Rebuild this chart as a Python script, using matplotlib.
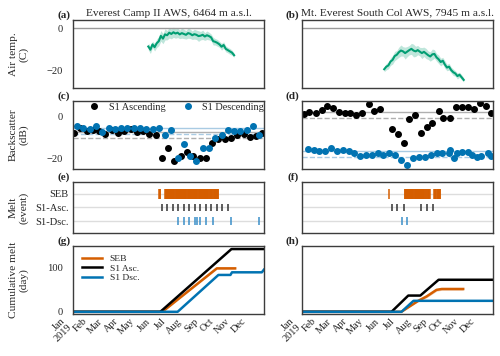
import numpy as np
import matplotlib
matplotlib.use('Agg')
import matplotlib.pyplot as plt
import matplotlib.dates as mdates

plt.rcParams['font.family'] = ['Liberation Serif', 'DejaVu Serif']
plt.rcParams['font.size'] = 8.2
plt.rcParams['text.color'] = '#262626'
plt.rcParams['axes.labelcolor'] = '#262626'
plt.rcParams['xtick.color'] = '#262626'
plt.rcParams['ytick.color'] = '#262626'

GREEN = '#029e73'
ORANGE = '#d55e00'
BLUE = '#0173b2'

# --- air temperature (day of year, degC, half band width) ---
t_days_l = [144, 148, 152, 156, 160, 164, 168, 172, 176, 180, 184, 188, 192, 196,
            200, 204, 208, 212, 216, 220, 224, 228, 232, 236, 240, 244, 248, 252,
            256, 260, 264, 268, 272, 276, 280, 284, 288, 292, 296, 300, 304, 308]
t_vals_l = [-8.5, -10.0, -7.5, -8.8, -7.0, -6.0, -3.5, -4.8, -2.8, -3.2, -2.0, -2.6, -1.8, -2.4,
            -2.0, -2.8, -2.2, -2.6, -3.0, -2.2, -2.5, -3.2, -2.7, -3.0, -3.6, -3.4, -3.0, -3.8,
            -3.2, -3.6, -4.2, -6.0, -6.3, -6.8, -7.5, -8.6, -7.8, -9.6, -10.2, -10.8, -11.4, -12.6]
t_band_l = [1.6, 1.8, 1.5, 1.8, 2.0, 2.2, 2.5, 2.4, 2.6, 2.2, 2.5, 2.3, 2.4, 2.2,
            2.3, 2.0, 2.4, 2.2, 2.0, 2.4, 2.2, 2.0, 2.3, 2.2, 2.5, 2.0, 2.2, 1.8,
            2.0, 1.8, 1.6, 1.8, 1.5, 1.6, 1.4, 1.6, 1.5, 1.4, 1.3, 1.4, 1.2, 1.0]

t_days_r = [157, 161, 165, 169, 173, 177, 181, 185, 189, 193, 197, 201, 205, 209,
            213, 217, 221, 225, 229, 233, 237, 241, 245, 249, 253, 257, 261, 265,
            269, 273, 277, 281, 285, 289, 293, 297, 301, 305, 309]
t_vals_r = [-19.2, -18.0, -17.4, -15.6, -14.8, -13.0, -12.4, -11.2, -10.4, -10.8, -11.6, -10.9, -10.2, -9.6,
            -10.4, -10.8, -10.2, -10.9, -11.6, -11.0, -11.8, -12.6, -13.2, -12.2, -12.0, -13.6, -14.5, -15.8,
            -15.2, -17.0, -18.4, -18.0, -19.6, -20.6, -21.2, -22.4, -21.8, -23.0, -24.2]
t_band_r = [1.2, 1.5, 1.6, 1.8, 2.0, 2.2, 2.0, 2.4, 2.6, 2.2, 2.8, 2.4, 2.2, 2.6,
            3.0, 2.4, 2.2, 2.0, 2.6, 2.2, 2.4, 2.0, 2.2, 2.5, 2.0, 1.8, 2.0, 1.8,
            1.6, 1.8, 1.5, 1.6, 1.4, 1.5, 1.3, 1.4, 1.2, 1.2, 1.0]

# --- Sentinel-1 backscatter (day of year, dB) ---
asc_days_l = [2, 14, 26, 38, 50, 62, 74, 86, 98, 110, 122, 134, 146, 158, 170, 182,
              194, 206, 218, 230, 242, 254, 266, 278, 290, 302, 314, 326, 338, 350, 362]
asc_vals_l = [-7.8, -5.4, -7.0, -6.5, -6.7, -8.3, -6.2, -7.8, -7.0, -5.9, -7.5, -7.0, -8.3, -8.6, -19.7, -14.8,
              -21.4, -19.0, -16.8, -19.0, -20.0, -19.7, -12.8, -10.6, -10.9, -10.0, -8.6, -8.5, -9.7, -9.4, -8.0]
dsc_days_l = [8, 20, 32, 44, 56, 68, 80, 92, 104, 116, 128, 140, 152, 164, 176,
              188, 200, 212, 224, 236, 248, 260, 272, 284, 296, 308, 320, 332, 344, 356]
dsc_vals_l = [-4.6, -5.4, -5.9, -4.6, -7.3, -5.4, -5.7, -5.4, -5.6, -5.4, -5.4, -6.0, -5.9, -5.4, -8.6,
              -6.2, -20.0, -12.9, -19.0, -21.4, -15.2, -15.2, -10.0, -8.6, -6.5, -7.0, -7.0, -6.5, -4.6, -9.0]

asc_days_r = [3, 13, 26, 38, 48, 60, 71, 82, 92, 103, 114, 127, 138, 149, 171, 183,
              194, 205, 216, 227, 238, 249, 262, 270, 283, 295, 305, 318, 329, 340, 352, 362]
asc_vals_r = [1.3, 2.2, 1.7, 3.2, 4.9, 4.1, 2.2, 1.7, 1.7, 0.9, 1.7, 6.0, 2.9, 3.6, -5.7, -8.5,
              -12.5, -0.9, 0.9, -7.8, -4.9, -3.0, 2.9, -0.6, -0.6, 4.4, 4.6, 4.4, 3.8, 6.5, 4.9, 1.7]
dsc_days_r = [11, 22, 32, 44, 55, 66, 78, 89, 100, 111, 122, 133, 145, 155, 167, 178, 189, 201,
              213, 224, 235, 246, 257, 268, 280, 283, 291, 296, 305, 317, 324, 334, 343, 355, 362]
dsc_vals_r = [-15.4, -15.7, -16.2, -16.5, -15.0, -16.5, -15.7, -16.5, -17.6, -18.9, -18.4, -18.1, -17.3,
              -18.4, -17.6, -18.4, -20.8, -23.2, -19.7, -19.2, -19.2, -18.1, -17.6, -17.3, -17.3, -15.7,
              -20.0, -17.3, -16.8, -16.8, -18.1, -19.2, -18.9, -17.6, -18.9]

# reference (winter mean) backscatter levels, threshold = mean - 3 dB
ref_asc_l, ref_dsc_l = -7.2, -5.5
ref_asc_r, ref_dsc_r = 2.2, -16.5
thr_db = 3.0

# --- melt events ---
seb_runs_l = [(165, 167), (176, 267), (269, 278)]
asc_events_l = [170, 180, 191, 201, 212, 222, 233, 243, 254, 264, 275, 285, 296]
dsc_events_l = [200, 213, 222, 233, 238, 243, 255, 267, 302, 356]

seb_runs_r = [(167, 167), (196, 238), (240, 244), (253, 256), (258, 264)]
asc_events_r = [171, 182, 194, 228, 239, 250]
dsc_events_r = [191, 201]

# --- cumulative melt (day of year, days) ---
cum_seb_days_l = [0, 165, 170, 176, 275, 310]
cum_seb_vals_l = [0, 0, 2, 5, 99, 99]
cum_seb_err_l = [0, 0, 1, 1.5, 2, 2]
cum_asc_days_l = [0, 167, 303, 365]
cum_asc_vals_l = [0, 0, 143, 143]
cum_dsc_days_l = [0, 200, 278, 301, 304, 361, 365]
cum_dsc_vals_l = [0, 0, 84, 84, 90, 90, 96]

cum_seb_days_r = [0, 190, 222, 238, 257, 267, 308]
cum_seb_vals_r = [0, 0, 25, 35, 50, 52, 52]
cum_seb_err_r = [0, 0, 2, 3, 3, 3, 3]
cum_asc_days_r = [0, 171, 203, 226, 261, 365]
cum_asc_vals_r = [0, 0, 37, 37, 73, 73]
cum_dsc_days_r = [0, 190, 213, 365]
cum_dsc_vals_r = [0, 0, 25, 25]

titles = ['Everest Camp II AWS, 6464 m a.s.l.', 'Mt. Everest South Col AWS, 7945 m a.s.l.']
month_labels = ['Jan\n2019', 'Feb', 'Mar', 'Apr', 'May', 'Jun',
                'Jul', 'Aug', 'Sep', 'Oct', 'Nov', 'Dec']

base = np.datetime64('2019-01-01')


def to_date(days):
    return base + np.asarray(days).astype('timedelta64[D]')


fig, axes = plt.subplots(4, 2, figsize=(5, 3.56), dpi=100, sharex=True, sharey='row',
                         gridspec_kw=dict(height_ratios=[4, 4, 3, 4], left=0.146, right=0.986,
                                          top=0.944, bottom=0.118, wspace=0.2, hspace=0.204))

temps = [(t_days_l, t_vals_l, t_band_l), (t_days_r, t_vals_r, t_band_r)]
bsc = [(asc_days_l, asc_vals_l, dsc_days_l, dsc_vals_l, ref_asc_l, ref_dsc_l),
       (asc_days_r, asc_vals_r, dsc_days_r, dsc_vals_r, ref_asc_r, ref_dsc_r)]
events = [(seb_runs_l, asc_events_l, dsc_events_l), (seb_runs_r, asc_events_r, dsc_events_r)]
cums = [(cum_seb_days_l, cum_seb_vals_l, cum_seb_err_l, cum_asc_days_l, cum_asc_vals_l,
         cum_dsc_days_l, cum_dsc_vals_l),
        (cum_seb_days_r, cum_seb_vals_r, cum_seb_err_r, cum_asc_days_r, cum_asc_vals_r,
         cum_dsc_days_r, cum_dsc_vals_r)]
letters = [['(a)', '(b)'], ['(c)', '(d)'], ['(e)', '(f)'], ['(g)', '(h)']]

for c in range(2):
    # air temperature
    ax = axes[0, c]
    d, v, b = temps[c]
    v = np.array(v); b = np.array(b)
    ax.axhline(0, color='#9a9a9a', lw=1)
    ax.fill_between(to_date(d), v - b, v + b, color=GREEN, alpha=0.25, lw=0)
    ax.plot(to_date(d), v, color=GREEN, lw=1.5)
    ax.set_title(titles[c], fontsize=8.2, pad=3)

    # backscatter
    ax = axes[1, c]
    ad, av, dd, dv, ra, rd = bsc[c]
    ax.axhline(ra, color='#b0b0b0', lw=1)
    ax.axhline(ra - thr_db, color='#b0b0b0', lw=1, ls='--')
    ax.axhline(rd, color='#a9cbe3', lw=1)
    ax.axhline(rd - thr_db, color='#a9cbe3', lw=1, ls='--')
    ax.plot(to_date(ad), av, 'o', color='black', ms=4, label='S1 Ascending')
    ax.plot(to_date(dd), dv, 'o', color=BLUE, ms=4, label='S1 Descending')

    # melt events
    ax = axes[2, c]
    runs, ae, de = events[c]
    for y in [0, 1, 2]:
        ax.axhline(y, color='#dddddd', lw=1, zorder=0)
    seb_days = [day for a, e in runs for day in range(a, e + 1)]
    ax.vlines(to_date(seb_days), 2 - 0.36, 2 + 0.36, color=ORANGE, lw=1.1)
    ax.vlines(to_date(ae), 1 - 0.28, 1 + 0.28, color='#333333', lw=1.1)
    ax.vlines(to_date(de), -0.28, 0.28, color='#3b8fc9', lw=1.1)

    # cumulative melt
    ax = axes[3, c]
    sd, sv, se, ad, av, dd, dv = cums[c]
    sv = np.array(sv); se = np.array(se)
    ax.fill_between(to_date(sd), sv - se, sv + se, color=ORANGE, alpha=0.3, lw=0)
    ax.plot(to_date(sd), sv, color=ORANGE, lw=1.8, label='SEB')
    ax.plot(to_date(ad), av, color='black', lw=1.8, label='S1 Asc.')
    ax.plot(to_date(dd), dv, color=BLUE, lw=1.8, label='S1 Dsc.')

for r in range(4):
    for c in range(2):
        ax = axes[r, c]
        for s in ax.spines.values():
            s.set_color('#3c3c3c')
            s.set_linewidth(1.0)
        ax.tick_params(length=0, pad=7, labelsize=7.6)
        ax.text(-0.015, 1.0, letters[r][c], transform=ax.transAxes, ha='right', va='bottom',
                fontweight='bold', fontsize=8)

axes[0, 0].set_ylim(-28, 4)
axes[0, 0].set_yticks([0, -20])
axes[1, 0].set_ylim(-25, 7.5)
axes[1, 0].set_yticks([0, -20])
axes[2, 0].set_ylim(-0.87, 2.87)
axes[2, 0].set_yticks([0, 1, 2])
axes[2, 0].set_yticklabels(['S1-Dsc.', 'S1-Asc.', 'SEB'])
axes[2, 0].tick_params(axis='y', pad=3)
axes[3, 0].set_ylim(-5, 150)
axes[3, 0].set_yticks([0, 100])

ylabels = ['Air temp.\n(C)', 'Backscatter\n(dB)', 'Melt\n(event)', 'Cumulative melt\n(day)']
for r in range(4):
    axes[r, 0].set_ylabel(ylabels[r], fontsize=8.2, linespacing=1.1)
    axes[r, 0].yaxis.set_label_coords(-0.235, 0.5)

axes[1, 0].legend(loc='upper center', bbox_to_anchor=(0.53, 1.04), ncol=2, frameon=False,
                  fontsize=7.4, handletextpad=0.4, columnspacing=1.2, borderaxespad=0)
axes[3, 0].legend(loc='upper left', frameon=False, fontsize=6.8, handlelength=2.2,
                  handletextpad=0.8, labelspacing=0.1)

ticks = [np.datetime64('2019-%02d-01' % m) for m in range(1, 13)]
for c in range(2):
    axes[3, c].set_xlim(np.datetime64('2019-01-01'), np.datetime64('2020-01-01'))
    axes[3, c].set_xticks(ticks)
    axes[3, c].set_xticklabels(month_labels, rotation=45, ha='right', fontsize=7.4,
                               linespacing=0.9)
    axes[3, c].tick_params(axis='x', pad=2)

fig.savefig('out.png', dpi=100)
